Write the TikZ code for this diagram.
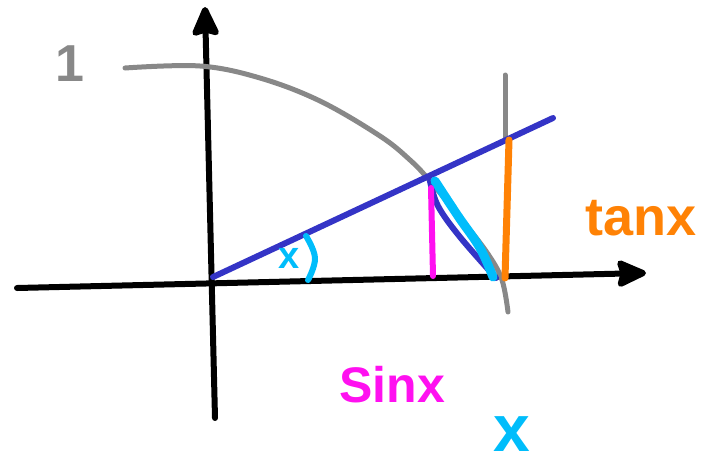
\documentclass[tikz,border=0pt]{standalone}
\usepackage{fontspec}
\setmainfont{Liberation Sans}
\usetikzlibrary{arrows.meta}
\definecolor{pgray}{HTML}{888888}
\definecolor{pblue}{HTML}{3434C6}
\definecolor{pcyan}{HTML}{00BDFB}
\definecolor{pmag}{HTML}{FF10F0}
\definecolor{porange}{HTML}{FF8205}
\begin{document}
\begin{tikzpicture}[x=1pt,y=-1pt,
  stroke/.style={line width=6pt,line cap=round,line join=round},
  axis/.style={stroke,black,-{Stealth[length=34pt,width=30pt,inset=4pt,round]}},
  lbl/.style={inner sep=0pt,anchor=center}]
\useasboundingbox (0,0) rectangle (704,467);
% key points
\coordinate (xstart) at (17,288);
\coordinate (xend) at (646,273);
\coordinate (ystart) at (215,418);
\coordinate (yend) at (205,7);
\coordinate (O) at (213,277);
\coordinate (Bend) at (553,118);
\coordinate (P) at (430,181);
\coordinate (Q) at (496,278);
\coordinate (Gtop) at (505,75);
\coordinate (Gmid) at (505,138);
\coordinate (Ttop) at (509,140);
\coordinate (Tbot) at (505,278);
\coordinate (Stop) at (431,188);
\coordinate (Sbot) at (433,276);
% axes
\draw[axis] (xstart) -- (xend);
\draw[axis] (ystart) -- (yend);
% unit circle arc
\draw[stroke,pgray,line width=5pt] plot[smooth,tension=0.6] coordinates {(125,68) (200,66) (260,78) (320,101) (380,136) (410,160) (P) (462,220) (488,254) (502,280) (508,312)};
\draw[stroke,pgray,line width=5pt] (Gtop) -- (Gmid);
% ray
\draw[stroke,pblue] (O) -- (Bend);
% chord (dark blue)
\draw[stroke,pblue] plot[smooth,tension=0.6] coordinates {(P) (438,206) (460,237) (Q)};
% cyan chord
\draw[stroke,pcyan,line width=9pt] plot[smooth,tension=0.6] coordinates {(435,181) (458,216) (480,248) (493,277)};
% sin
\draw[stroke,pmag] (Stop) -- (Sbot);
% tan
\draw[stroke,porange,line width=7pt] (Ttop) -- (Tbot);
% angle arc
\draw[stroke,pcyan] plot[smooth,tension=0.7] coordinates {(306,236) (315,258) (308,280)};
% labels
\node[lbl,text=pgray,font=\bfseries\fontsize{52}{52}\selectfont] (one) at (70,64) {1};
\node[lbl,text=pcyan,font=\bfseries\fontsize{38}{38}\selectfont] (ax) at (289,258) {x};
\node[lbl,text=porange,font=\bfseries\fontsize{54}{54}\selectfont] (tanx) at (641,218) {tanx};
\node[lbl,text=pmag,font=\bfseries\fontsize{50}{50}\selectfont] (sinx) at (392,385) {Sinx};
\node[lbl,text=pcyan,font=\bfseries\fontsize{66}{66}\selectfont] (bx) at (512,434) {x};
\end{tikzpicture}
\end{document}
